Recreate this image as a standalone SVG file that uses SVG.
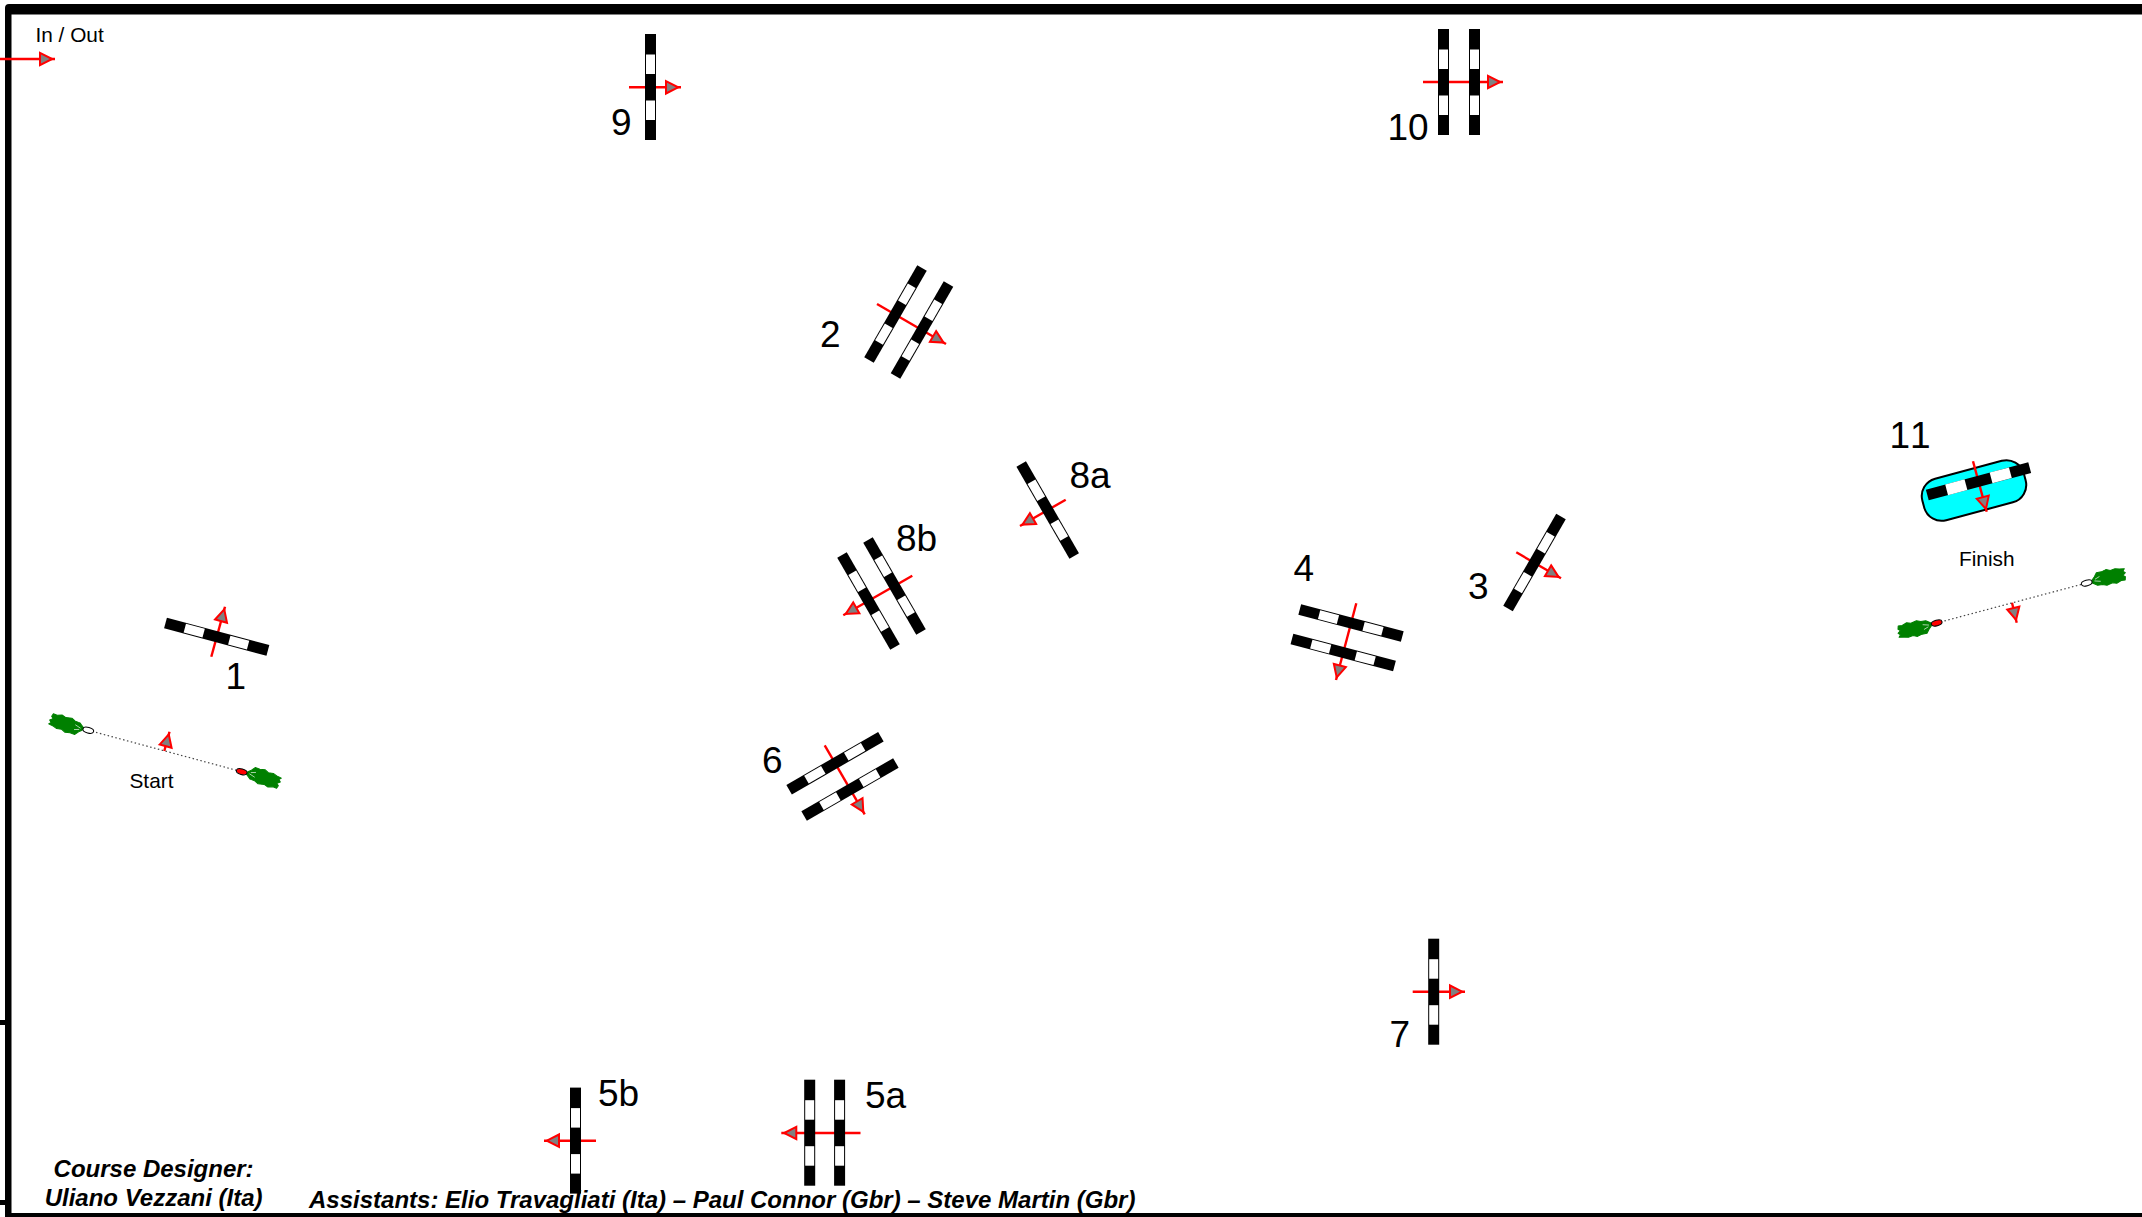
<svg xmlns="http://www.w3.org/2000/svg" xmlns:xlink="http://www.w3.org/1999/xlink" width="2142" height="1217" viewBox="0 0 2142 1217">
<style>
text{font-family:"Liberation Sans",Arial,sans-serif;fill:#000}
.num{font-size:37px}
.small{font-size:20.8px}
.credit{font-size:24px;font-weight:bold;font-style:italic}
.arrow{stroke:#f00;stroke-width:2.4;fill:none;marker-end:url(#head)}
.gate{stroke:#444;stroke-width:1.2;stroke-dasharray:1.5 2.5;fill:none}
.frame{fill:#000}
</style>
<defs>
<marker id="head" markerUnits="userSpaceOnUse" markerWidth="24" markerHeight="24" viewBox="-21 -12 24 24" refX="0" refY="0" orient="auto">
<polygon points="-15,-6.2 -2.8,0 -15,6.2" fill="#808080" stroke="#f00" stroke-width="2"/>
</marker>
<g id="rail">
<rect x="-5.5" y="-53" width="11" height="106" fill="#000"/>
<rect x="-4.5" y="-32.5" width="9" height="19.5" fill="#fff"/>
<rect x="-4.5" y="13.5" width="9" height="19.5" fill="#fff"/>
</g>
<g id="rail-plain">
<rect x="-5.5" y="-53" width="11" height="106" fill="#000"/>
<rect x="-5.5" y="-33" width="11" height="20" fill="#fff"/>
<rect x="-5.5" y="13" width="11" height="20" fill="#fff"/>
</g>
<g id="flag">
<path d="M-5,-1 L-10,-5 L-15,-5.5 L-19,-7.5 L-25,-6.5 L-29,-8 L-34,-6.5 L-38,-7 L-39,-4 L-37,-2 L-40,0 L-38,2 L-40,4 L-35,5 L-31,6.5 L-26,6 L-22,8 L-17,7 L-12,7.5 L-9,4 L-6,1.5 Z" fill="#008000" stroke="#008000" stroke-width="1" stroke-linejoin="round"/>
<path d="M-8,0 L-14,-2 M-9,1.5 L-14,3" stroke="#fff" stroke-width="0.6" fill="none"/>
</g>
</defs>

<rect width="2142" height="1217" fill="#fff"/>

<g id="frame">
<path class="frame" d="M5,1217 L5,8 Q5,4 9,4 L2142,4 L2142,14.5 L11.5,14.5 L11.5,1213 L2142,1213 L2142,1217 Z"/>
<rect class="frame" x="0" y="1020" width="6" height="5"/>
<rect class="frame" x="0" y="1200" width="6" height="5"/>
</g>

<g id="water-11">
<rect x="1921.5" y="469" width="105" height="43" rx="18" transform="rotate(-15 1974 490.5)" fill="#0ff" stroke="#000" stroke-width="2"/>
</g>

<g id="connectors">
<line class="arrow" x1="0" y1="59" x2="55" y2="59"/>
<line class="arrow" x1="211.3" y1="656.7" x2="225" y2="606.7"/>
<line class="arrow" x1="164.3" y1="751" x2="169.5" y2="731.7"/>
<line class="arrow" x1="877" y1="304" x2="946" y2="344"/>
<line class="arrow" x1="1516.3" y1="552.3" x2="1561" y2="578.3"/>
<line class="arrow" x1="1356.3" y1="603.3" x2="1336" y2="680"/>
<line class="arrow" x1="860.5" y1="1133" x2="781.3" y2="1133"/>
<line class="arrow" x1="596" y1="1140.7" x2="544" y2="1140.7"/>
<line class="arrow" x1="824.7" y1="745.3" x2="864.7" y2="814.3"/>
<line class="arrow" x1="1412.7" y1="991.7" x2="1465" y2="991.7"/>
<line class="arrow" x1="1065.7" y1="499.7" x2="1020" y2="526"/>
<line class="arrow" x1="912.3" y1="575.7" x2="843.3" y2="615.3"/>
<line class="arrow" x1="629" y1="87.3" x2="681" y2="87.3"/>
<line class="arrow" x1="1423" y1="82" x2="1503" y2="82"/>
<line class="arrow" x1="1973" y1="461.3" x2="1986.7" y2="511.7"/>
<line class="arrow" x1="2012" y1="602.7" x2="2016.7" y2="622.7"/>
</g>

<g id="in-out"><text class="small" x="35.5" y="42">In / Out</text></g>

<g id="start">
<line class="gate" x1="88.3" y1="730.3" x2="241.7" y2="771.7"/>
<use xlink:href="#flag" href="#flag" transform="translate(88.3 730.3) rotate(15)"/>
<use xlink:href="#flag" href="#flag" transform="translate(241.7 771.7) rotate(195)"/>
<ellipse cx="88.3" cy="730.3" rx="5.5" ry="2.8" transform="rotate(15 88.3 730.3)" fill="#fff" stroke="#000" stroke-width="1"/>
<ellipse cx="241.7" cy="771.7" rx="5.5" ry="2.8" transform="rotate(15 241.7 771.7)" fill="#f00" stroke="#000" stroke-width="1"/>
<text class="small" x="129.5" y="787.7">Start</text>
</g>

<g id="finish">
<line class="gate" x1="1936.7" y1="623" x2="2086.7" y2="583"/>
<use xlink:href="#flag" href="#flag" transform="translate(1936.7 623) rotate(-15)"/>
<use xlink:href="#flag" href="#flag" transform="translate(2086.7 583) rotate(165)"/>
<ellipse cx="1936.7" cy="623" rx="5.5" ry="2.8" transform="rotate(-15 1936.7 623)" fill="#f00" stroke="#000" stroke-width="1"/>
<ellipse cx="2086.7" cy="583" rx="5.5" ry="2.8" transform="rotate(-15 2086.7 583)" fill="#fff" stroke="#000" stroke-width="1"/>
<text class="small" x="1959" y="565.7">Finish</text>
</g>

<g id="obstacle-1">
<use href="#rail" transform="translate(216.7 636.7) rotate(105)"/>
<text class="num" x="225.5" y="689">1</text>
</g>
<g id="obstacle-2">
<use href="#rail" transform="translate(895.5 314) rotate(30)"/>
<use href="#rail" transform="translate(922 330) rotate(30)"/>
<text class="num" x="820" y="347">2</text>
</g>
<g id="obstacle-3">
<use href="#rail" transform="translate(1534.5 562.5) rotate(30)"/>
<text class="num" x="1468" y="599">3</text>
</g>
<g id="obstacle-4">
<use href="#rail" transform="translate(1351 623) rotate(104.7)"/>
<use href="#rail" transform="translate(1343.2 652.5) rotate(104.7)"/>
<text class="num" x="1293.5" y="581">4</text>
</g>
<g id="obstacle-5a">
<use href="#rail" transform="translate(809.7 1132.7)"/>
<use href="#rail" transform="translate(839.6 1132.7)"/>
<text class="num" x="865" y="1107.7">5a</text>
</g>
<g id="obstacle-5b">
<use href="#rail" transform="translate(575.5 1140.6)"/>
<text class="num" x="598" y="1105.5">5b</text>
</g>
<g id="obstacle-6">
<use href="#rail" transform="translate(835 763.2) rotate(60)"/>
<use href="#rail" transform="translate(850 789.5) rotate(60)"/>
<text class="num" x="762" y="773">6</text>
</g>
<g id="obstacle-7">
<use href="#rail" transform="translate(1433.7 991.7)"/>
<text class="num" x="1389.5" y="1046.7">7</text>
</g>
<g id="obstacle-8a">
<use href="#rail" transform="translate(1047.7 510) rotate(-30)"/>
<text class="num" x="1069.5" y="487.7">8a</text>
</g>
<g id="obstacle-8b">
<use href="#rail" transform="translate(894.5 586) rotate(-30)"/>
<use href="#rail" transform="translate(868.5 601) rotate(-30)"/>
<text class="num" x="896" y="551">8b</text>
</g>
<g id="obstacle-9">
<use href="#rail" transform="translate(650.5 87)"/>
<text class="num" x="611" y="134.5">9</text>
</g>
<g id="obstacle-10">
<use href="#rail" transform="translate(1443.5 82)"/>
<use href="#rail" transform="translate(1474.5 82)"/>
<text class="num" x="1387.5" y="140">10</text>
</g>
<g id="obstacle-11">
<use href="#rail-plain" transform="translate(1978.5 481.3) rotate(75)"/>
<text class="num" x="1889.5" y="447.7" style="font-kerning:none">11</text>
</g>

<g id="credits">
<text class="credit" x="153.6" y="1177" text-anchor="middle">Course Designer:</text>
<text class="credit" x="153.6" y="1206" text-anchor="middle">Uliano Vezzani (Ita)</text>
<text class="credit" x="309" y="1208">Assistants: Elio Travagliati (Ita) – Paul Connor (Gbr) – Steve Martin (Gbr)</text>
</g>
</svg>
